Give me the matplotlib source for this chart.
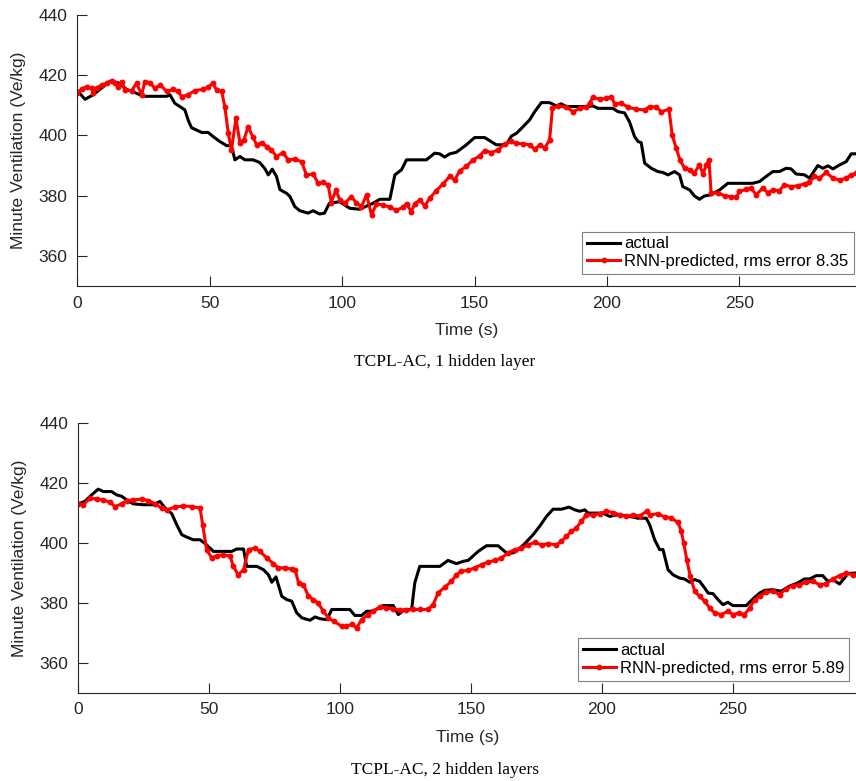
import matplotlib
matplotlib.use("Agg")
import matplotlib.pyplot as plt

# ---- data (time in s, minute ventilation) ----
# top panel: 1 hidden layer
t1_actual = [0, 2.9, 6, 9.8, 12.3, 15.5, 18.6, 21.8, 25, 33.7, 35, 36.8, 38.7, 40.6, 41.9, 43.1,
             45, 46.9, 49.4, 51.3, 53.8, 56.4, 58.2, 59.5, 61.4, 63.3, 66.4, 68.9, 70.8, 72.1,
             73.6, 75.2, 76.5, 79, 80.3, 82.1, 84, 87.1, 89, 91.5, 93.3, 95.2, 99, 102.9, 106.6,
             111.7, 114.2, 118, 119.9, 122.4, 124.3, 131.8, 134.9, 136.8, 138.7, 140.6, 143.1,
             146.9, 150, 153.8, 158.2, 162, 163.9, 165.8, 168.3, 170.8, 172.7, 175.2, 178.3,
             180.9, 182.7, 184.6, 192.2, 194.7, 196.6, 202.2, 204.1, 206.6, 208.5, 210.4, 211.7,
             212.9, 214.2, 216.7, 219.2, 221.1, 223, 225.5, 227.4, 228.6, 231.2, 233, 234.9,
             236.8, 239.3, 242.5, 245.6, 255, 257.6, 260.1, 262.6, 265.1, 267.6, 269.5, 271.4,
             274.6, 276.4, 279.6, 281.5, 283.4, 285.3, 287.8, 290.3, 292.2, 294]
v1_actual = [414.9, 412, 413.5, 416.2, 418, 417.5, 415.3, 414.2, 413, 413, 413.5, 410.7, 409.6,
             408.5, 405, 402.6, 401.8, 401, 401, 399.6, 398, 396.6, 396.6, 391.9, 393, 391.9,
             391.9, 391, 389, 386.9, 388.8, 386.4, 382, 380.8, 379.7, 376.4, 375, 374.2, 375,
             373.9, 374.2, 377.5, 378, 375.8, 375.5, 377.5, 378.8, 378.8, 386.9, 388.6, 391.9,
             391.9, 394.1, 393.9, 392.8, 393.9, 394.4, 396.9, 399.3, 399.3, 396.9, 396.9, 399.8,
             400.7, 402.9, 405.2, 407.9, 410.9, 410.9, 409.8, 410.5, 409.6, 409.6, 409.8, 409,
             409, 407.9, 407.5, 404.5, 399.6, 398, 397.6, 390.8, 389.1, 388, 387.7, 386.9, 388,
             386.9, 383, 381.9, 379.9, 378.8, 379.9, 380.3, 381.9, 384.1, 384.1, 384.7, 386.4,
             388, 388, 389.1, 388.9, 387.2, 386.9, 385.8, 390, 389.1, 389.9, 388.9, 390.2, 391.3,
             393.9, 393.9]
t1_rnn = [0, 1.6, 3.5, 5.4, 6, 7.3, 9.2, 11.1, 13, 14.2, 15.5, 16.7, 18, 20.5, 22.4, 24.3, 25.5,
          27.4, 29.3, 31.4, 33.7, 36.2, 38.1, 39.4, 41.9, 44.4, 47.5, 49.4, 51.1, 52.6, 54.5,
          55.7, 57, 58.2, 59.9, 61.4, 62.9, 64.5, 66.2, 67.7, 69.6, 71.5, 73.3, 75.2, 77.7, 79.6,
          82.1, 84.7, 86.5, 89.1, 90.9, 92.8, 94.7, 95.9, 97.6, 99.1, 101, 103.5, 105.4, 107.3,
          109.2, 111.1, 112.9, 115.5, 118, 120.5, 123, 124.3, 126.1, 127.4, 129.3, 131.2, 133.1,
          135.6, 138.1, 140.6, 142.5, 144.4, 146.9, 149.4, 151.9, 153.8, 156.3, 158.9, 161.4,
          163.9, 165.8, 168.3, 170.8, 172.7, 174.6, 176.5, 178.3, 179.4, 181.5, 184.6, 187.2,
          189.7, 192.2, 193.4, 194.7, 197.2, 199.7, 201.6, 202.9, 205.4, 207.9, 211, 214.2,
          216.1, 218.6, 220.5, 223.4, 224.6, 226.1, 227.6, 229.3, 231.2, 233, 234.9, 236.2,
          237.5, 238.5, 239.3, 241.9, 244.4, 246.9, 248.8, 250, 252.5, 254.4, 256.3, 258.8,
          260.7, 262.6, 265.1, 267, 269.5, 272, 274.6, 276.4, 278.3, 280.2, 282.7, 285.3, 287.8,
          290.3, 292.2, 294]
v1_rnn = [414.2, 415.3, 416.2, 415.7, 414, 415.7, 416.8, 417.3, 418.2, 417.5, 416, 417.9, 415.1,
          414.9, 417.3, 413.5, 417.9, 417.5, 415.7, 416.8, 414.6, 415.3, 414.6, 412.9, 413.5,
          414.9, 415.3, 416, 417.3, 415.1, 414.6, 409.6, 400.7, 395.2, 405.7, 397.6, 398.5,
          402.9, 399.6, 396.9, 397.6, 396.3, 395.2, 393, 394.3, 391.9, 392.1, 391.3, 386.9,
          387.2, 384.1, 384.4, 383.6, 377.7, 381.9, 378.6, 377.5, 379.7, 377.5, 376.4, 380.3,
          373.6, 377.3, 376.9, 376.2, 375.1, 376.2, 377.3, 374.7, 377.3, 378.6, 376.6, 379.2,
          381.7, 383.9, 386.4, 385.2, 388.3, 389.7, 391.9, 393.2, 395, 394.3, 395.2, 397.2, 398,
          397.4, 397.2, 396.9, 395.4, 396.9, 395.8, 398.5, 409, 409.8, 409.4, 407.9, 409, 409.4,
          410.7, 412.7, 412, 412.3, 412.9, 410.5, 410.7, 409.4, 408.7, 408.5, 409.6, 409.4,
          407.9, 408.7, 400.2, 395.8, 391.7, 389.1, 388.6, 387.5, 390.2, 387.2, 390.2, 391.9,
          380.8, 381, 379.9, 379.7, 379.4, 381.4, 382.1, 382.5, 380.3, 382.5, 381, 381.9, 381.7,
          383.6, 383, 383.3, 383.9, 384.4, 386.4, 385.8, 387.7, 385.8, 385.2, 385.8, 386.9, 387.5]

# bottom panel: 2 hidden layers
t2_actual = [0, 2.5, 5.1, 7.6, 9.6, 12.7, 14.6, 16.6, 18.5, 21, 24.8, 28.7, 31.2, 33.1, 35.7,
             37.6, 39.5, 41.4, 43.9, 46.5, 49, 51.6, 55.4, 58.6, 60.5, 63.1, 64.3, 68.2, 70.7,
             72.6, 73.9, 75.5, 77.7, 79.6, 81.5, 83.4, 85.4, 88.5, 90.4, 92.4, 94.9, 96.8, 103.7,
             105.6, 108.2, 110.1, 112.6, 116.4, 120.3, 122.2, 124.7, 127.3, 128.5, 130.4, 138.1,
             141.2, 144.4, 147, 148.9, 152.7, 155.9, 160.3, 163.5, 166.1, 168, 170.5, 173.7,
             176.2, 178.8, 181.3, 184.5, 187.4, 189.6, 191.5, 193.4, 194.7, 200.4, 202.9, 205.5,
             209.3, 213.7, 216.9, 218.2, 220.1, 222, 223.3, 225.2, 227.1, 229.6, 231.5, 233.5,
             235.4, 237.3, 239.2, 240.5, 242.4, 244.3, 246.2, 248.1, 250, 255.1, 257.6, 260.2,
             262.1, 265.3, 268.4, 271.6, 274.8, 277.3, 279.3, 281.8, 284.3, 286.3, 288.2, 290.7,
             292.6, 293.9, 297]
v2_actual = [413.1, 413.9, 416.1, 418, 417.2, 417.2, 416.1, 415.6, 414.4, 413.1, 412.8, 412.8,
             413.9, 411.7, 409.8, 406.1, 402.8, 402, 401.1, 401.1, 399.4, 397.2, 397.2, 397.2,
             398, 398, 392.2, 392.2, 391.1, 389.4, 386.9, 388.7, 382.2, 381.1, 380.6, 376.7, 375,
             374.2, 375.3, 374.7, 374.4, 377.8, 377.8, 375.8, 375.8, 377.2, 377.2, 379.1, 379.1,
             376.1, 377.8, 377.8, 386.7, 392.2, 392.2, 394.2, 393.1, 393.9, 394.2, 397.2, 399.1,
             399.1, 396.7, 396.7, 397.8, 399.8, 402.8, 405.6, 408.9, 411.3, 411.3, 412, 411.1,
             410.6, 411.1, 410, 410, 408.9, 409.4, 409.1, 408.3, 408.3, 406.1, 401.1, 397.8,
             397.8, 391.1, 389.4, 388.3, 388, 386.9, 387.8, 387.2, 385, 383.3, 383.1, 381.1, 379.4,
             380.2, 379.1, 379.1, 381.3, 383.3, 384.2, 384.4, 383.9, 385.6, 386.7, 388, 388, 389.1,
             389.1, 387.2, 387.8, 386.3, 388.3, 389.8, 390]
t2_rnn = [0, 1.9, 4.5, 7, 9.6, 12.1, 14, 16.6, 18.5, 21, 24.2, 26.8, 29.3, 31.8, 33.8, 36.9,
          40.1, 43.3, 46.5, 47.5, 49, 51, 52.9, 55.4, 58, 59.2, 61.1, 63.1, 65, 67.5, 69.4, 72,
          74.5, 76.4, 79, 81.5, 82.8, 84.1, 86, 87.9, 89.8, 91.7, 93.6, 95.5, 97.5, 100.6,
          102.4, 104.4, 106.3, 108.2, 110.7, 112.6, 115.2, 117.7, 120.3, 122.8, 125.3, 127.9,
          130.4, 133.6, 135.5, 137.4, 140, 142.5, 144.4, 146.3, 148.9, 151.4, 154, 156.5, 159.1,
          161.6, 164.1, 166.7, 169.2, 171.8, 174.3, 176.9, 179.4, 182.6, 184.5, 186.4, 188.3,
          190.2, 192.1, 194, 196.6, 199.1, 201.7, 204.2, 206.8, 209.3, 211.9, 214.4, 217, 218.2,
          221.4, 223.9, 226.5, 229, 230.3, 231.2, 232.4, 233.7, 235.4, 237.3, 239.2, 241.1, 243,
          245.5, 248.1, 250, 252.5, 254.4, 256.4, 258.3, 260.2, 262.7, 265.3, 267.8, 270.3,
          272.9, 275.4, 278, 280.5, 283.1, 285.6, 288.2, 290.7, 293.2, 295.8]
v2_rnn = [413.1, 412.8, 415, 414.7, 414.4, 413.6, 412.2, 413.1, 414.2, 414.4, 414.7, 414.2, 413.1,
          411.7, 411.1, 412, 412.4, 412.2, 411.7, 406.1, 397.8, 395, 395.8, 396.1, 395.6, 392.2,
          389.4, 391.1, 397.8, 398.3, 397.2, 395, 393.1, 391.7, 391.7, 391.3, 391.1, 386.7,
          386.1, 382.2, 381.1, 379.8, 377.2, 375, 373.9, 372.2, 372.2, 372.8, 371.7, 374.4,
          376.1, 377.2, 378.7, 378.3, 378, 377.6, 377.6, 377.8, 377.8, 377.8, 379.4, 383.3,
          385.3, 387.2, 389.4, 390.6, 390.9, 391.7, 392.8, 393.6, 394.2, 395, 396.7, 397.8,
          398.3, 399.4, 400.2, 399.4, 399.8, 399.4, 400.6, 402.2, 403.9, 405, 407.2, 409.4,
          409.4, 409.8, 410.6, 410.2, 409.4, 408.9, 409.4, 409, 410.6, 409.4, 409.8, 408.7,
          408.3, 406.9, 403.9, 400, 394.4, 388.9, 383.9, 382.2, 380.6, 378.3, 376.7, 376.1,
          377.2, 376.1, 376.7, 376.1, 378.3, 381.1, 382.2, 383.6, 383.9, 382.8, 384.7, 385.8,
          386.1, 386.9, 387.2, 386.1, 386.4, 388, 389.1, 390, 389.4]

panels = [
    (t1_actual, v1_actual, t1_rnn, v1_rnn, 8.35, "TCPL-AC, 1 hidden layer"),
    (t2_actual, v2_actual, t2_rnn, v2_rnn, 5.89, "TCPL-AC, 2 hidden layers"),
]

W, H = 856, 781
fig = plt.figure(figsize=(W / 100, H / 100), dpi=100)
plt.rcParams['font.family'] = ['Liberation Sans', 'DejaVu Sans']

# pixel boxes: left, top, bottom, x max
boxes = [(77.3, 15, 286, 294), (78.3, 423.3, 692.7, 297)]
legend_pos = [(582, 231.5), (577.5, 638)]
caption_y = [362, 770]
axis_col = (0.15, 0.15, 0.15)

for (ta, va, tr, vr, rms, cap), (l, top, bot, xmax), (lx, ly), cy in zip(panels, boxes, legend_pos, caption_y):
    ax = fig.add_axes([l / W, 1 - bot / H, 1 - l / W, (bot - top) / H])
    ax.plot(ta, va, color='black', lw=2.2, label='actual')
    ax.plot(tr, vr, color='red', lw=2.2, marker='o', ms=3.2, label='RNN-predicted, rms error %.2f' % rms)
    ax.set_xlim(0, xmax)
    ax.set_ylim(350, 440)
    ax.set_xticks([0, 50, 100, 150, 200, 250])
    ax.set_yticks([360, 380, 400, 420, 440])
    ax.spines['top'].set_visible(False)
    ax.spines['right'].set_visible(False)
    for s in ('left', 'bottom'):
        ax.spines[s].set_color(axis_col)
        ax.spines[s].set_linewidth(0.8)
    ax.tick_params(direction='in', length=7, width=0.8, colors=axis_col, labelsize=12.5, pad=7)
    ax.set_xlabel('Time (s)', fontsize=12.5, color=axis_col, labelpad=9)
    ax.set_ylabel('Minute Ventilation (Ve/kg)', fontsize=12.5, color=axis_col, labelpad=9)
    leg = ax.legend(loc='upper left', bbox_to_anchor=(lx / W, 1 - ly / H), bbox_transform=fig.transFigure,
                    fontsize=12, frameon=True, fancybox=False, framealpha=1, edgecolor=(0.5, 0.5, 0.5),
                    borderpad=0.3, handlelength=2.0, handletextpad=0.25, labelspacing=0.15,
                    numpoints=1, borderaxespad=0)
    leg.get_frame().set_linewidth(0.8)
    fig.text(445 / W, 1 - cy / H, cap, ha='center', va='center', fontsize=12.5,
             family=['Liberation Serif', 'DejaVu Serif'])

fig.savefig('out.png', dpi=100)
